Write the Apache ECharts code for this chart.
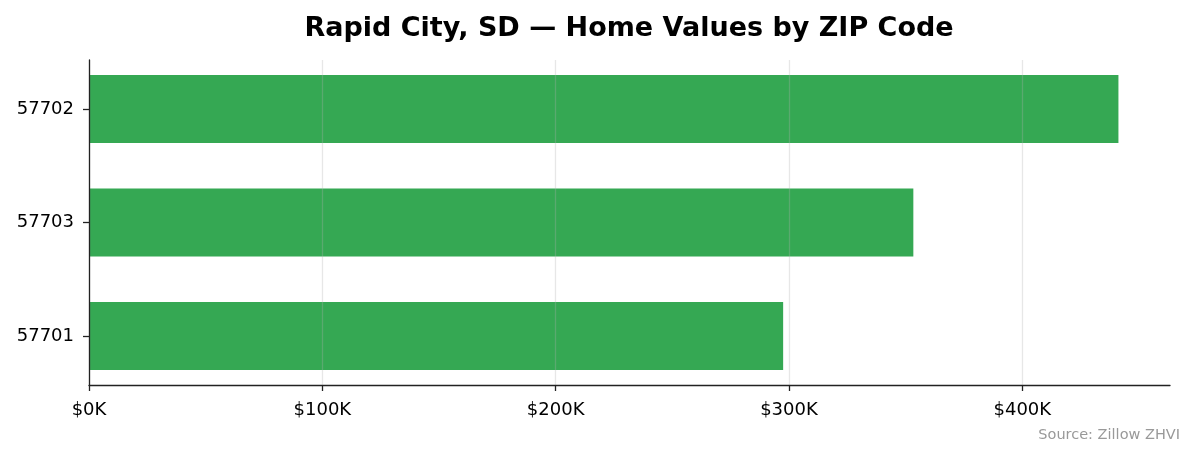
<!DOCTYPE html>
<html>
<head>
<meta charset="utf-8">
<script src="https://cdn.jsdelivr.net/npm/echarts@6/dist/echarts.min.js"></script>
<style>
  html, body { margin: 0; padding: 0; background: #fff; }
  #chart { width: 1195px; height: 455px; }
</style>
</head>
<body>
<div id="chart"></div>
<script>
// zip codes, bottom to top
var zips = ['57701', '57703', '57702'];
// home values in $K
var homeValues = [297.5, 353.3, 441.2];
var xTicks = [0, 100, 200, 300, 400];
var xMax = 463.3;

var font = 'DejaVu Sans';
var chart = echarts.init(document.getElementById('chart'));

// grid 0 = visible frame (spines, x ticks, grid lines)
// grid 1 = slightly taller band area so bars sit like matplotlib's margins
chart.setOption({
  animation: false,
  textStyle: { fontFamily: font },
  title: [
    {
      text: 'Rapid City, SD \u2014 Home Values by ZIP Code',
      left: 624,
      top: 10,
      textAlign: 'center',
      textStyle: { fontFamily: font, fontSize: 27, fontWeight: 'bold', color: '#000' }
    },
    {
      text: 'Source: Zillow ZHVI',
      right: 10,
      top: 423,
      textStyle: { fontFamily: font, fontSize: 14.5, fontWeight: 'normal', color: '#999' }
    }
  ],
  grid: [
    { left: 89, right: 25, top: 60, bottom: 70 },
    { left: 89, right: 25, top: 52.25, bottom: 62.25 }
  ],
  xAxis: [
    {
      gridIndex: 0,
      type: 'value',
      min: 0,
      max: xMax,
      interval: 100,
      z: 5,
      axisLine: { show: true, lineStyle: { color: '#222', width: 1.3 } },
      axisTick: { show: true, length: 6, lineStyle: { color: '#222', width: 1.3 } },
      axisLabel: {
        color: '#000', fontSize: 18, margin: 16, showMaxLabel: false,
        formatter: function (v) { return xTicks.indexOf(v) >= 0 ? '$' + v + 'K' : ''; }
      },
      splitLine: { show: true, showMaxLine: false, lineStyle: { color: 'rgba(176,176,176,0.3)', width: 1.3 } }
    },
    {
      gridIndex: 1,
      type: 'value',
      min: 0,
      max: xMax,
      show: false
    }
  ],
  yAxis: [
    {
      gridIndex: 0,
      type: 'value',
      z: 5,
      axisLine: { show: true, lineStyle: { color: '#222', width: 1.3 } },
      axisTick: { show: false },
      axisLabel: { show: false },
      splitLine: { show: false }
    },
    {
      gridIndex: 1,
      type: 'category',
      data: zips,
      z: 5,
      axisLine: { show: false },
      axisTick: { show: true, alignWithLabel: true, length: 6, lineStyle: { color: '#222', width: 1.3 } },
      axisLabel: { color: '#000', fontSize: 18, margin: 15 },
      splitLine: { show: false }
    }
  ],
  series: [{
    type: 'bar',
    xAxisIndex: 1,
    yAxisIndex: 1,
    data: homeValues,
    barWidth: 68,
    itemStyle: { color: '#35a853' }
  }]
});
</script>
</body>
</html>
